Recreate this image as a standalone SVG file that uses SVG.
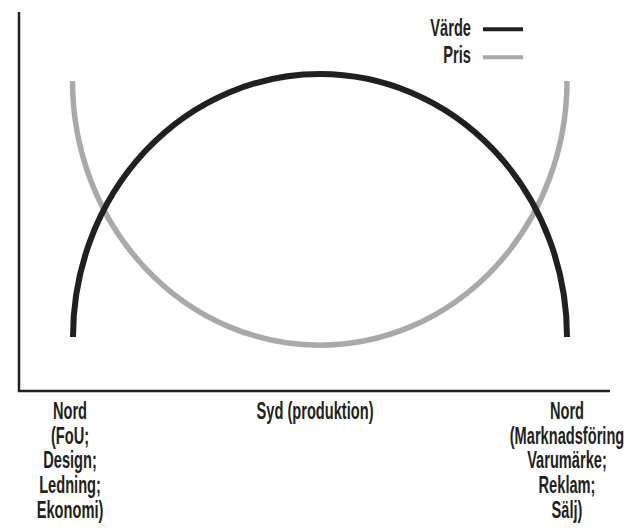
<svg xmlns="http://www.w3.org/2000/svg" width="626" height="528" viewBox="0 0 626 528">
<style>
.lbl{font-family:"Liberation Sans",Arial,sans-serif;font-weight:bold;font-size:24px;fill:#231f20}
.axis{fill:none;stroke:#231f20;stroke-width:2.5}
.varde{fill:none;stroke:#231f20;stroke-width:6}
.pris{fill:none;stroke:#a7a9ac;stroke-width:5.5}
</style>
<rect width="626" height="528" fill="#ffffff"/>
<g id="axes">
<path class="axis" d="M19 12 V391 H610"/>
</g>
<g id="connectors">
<path id="pris-curve" class="pris" d="M72.5 81 A247 264 0 0 0 567 81"/>
<path id="varde-curve" class="varde" d="M73 337 A247 263 0 0 1 567 337"/>
</g>
<g id="legend">
<text class="lbl" text-anchor="end" transform="translate(471,36) scale(0.61,1)">Värde</text>
<line class="varde" x1="483" y1="29.3" x2="523" y2="29.3" style="stroke-width:4"/>
<text class="lbl" text-anchor="end" transform="translate(471,62.5) scale(0.61,1)">Pris</text>
<line class="pris" x1="483" y1="57.3" x2="523" y2="57.3" style="stroke-width:4"/>
</g>
<g id="label-left">
<text class="lbl" text-anchor="middle" transform="translate(70,419) scale(0.61,1)"><tspan x="0" y="0">Nord</tspan><tspan x="0" dy="24.7">(FoU;</tspan><tspan x="0" dy="24.7">Design;</tspan><tspan x="0" dy="24.7">Ledning;</tspan><tspan x="0" dy="24.7">Ekonomi)</tspan></text>
</g>
<g id="label-middle">
<text class="lbl" text-anchor="middle" transform="translate(315,419) scale(0.61,1)">Syd (produktion)</text>
</g>
<g id="label-right">
<text class="lbl" text-anchor="middle" transform="translate(567,419) scale(0.61,1)"><tspan x="0" y="0">Nord</tspan><tspan x="0" dy="24.7">(Marknadsföring</tspan><tspan x="0" dy="24.7">Varumärke;</tspan><tspan x="0" dy="24.7">Reklam;</tspan><tspan x="0" dy="24.7">Sälj)</tspan></text>
</g>
</svg>
